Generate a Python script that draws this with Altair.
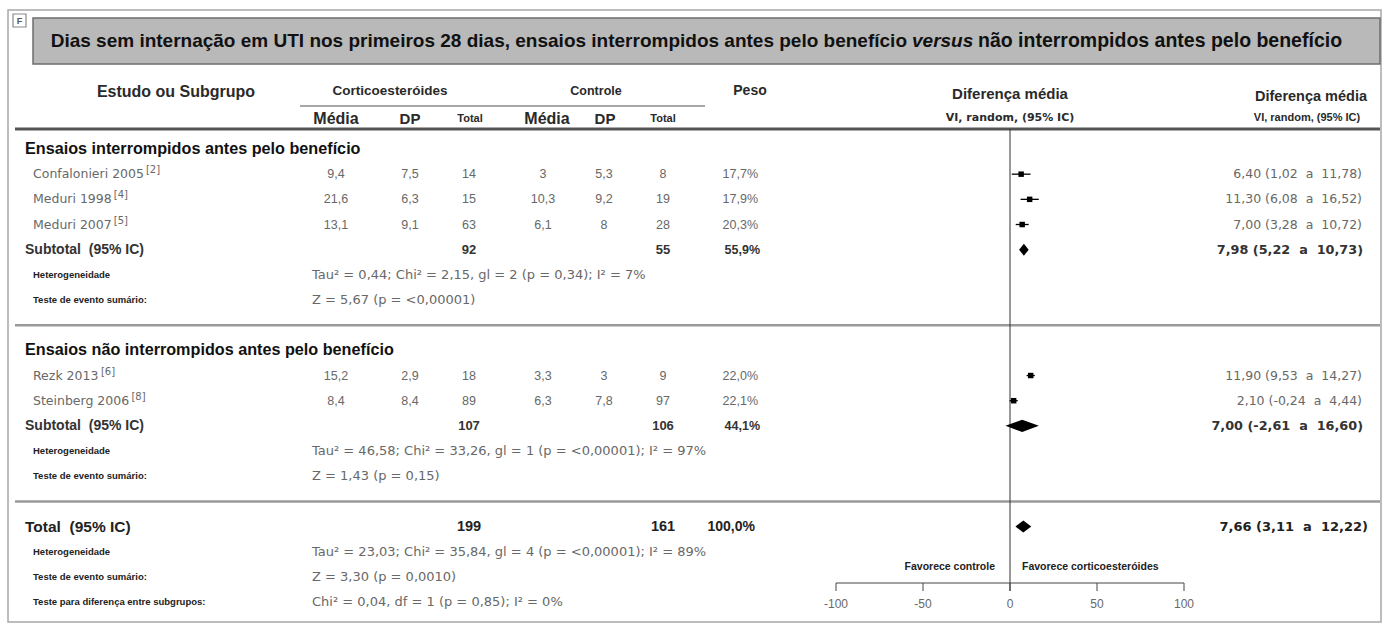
import altair as alt
import pandas as pd

# ---------------- study data ----------------
study = ["Confalonieri 2005", "Meduri 1998", "Meduri 2007", "Rezk 2013", "Steinberg 2006"]
ref = ["[2]", "[4]", "[5]", "[6]", "[8]"]
cort_mean = [9.4, 21.6, 13.1, 15.2, 8.4]
cort_sd = [7.5, 6.3, 9.1, 2.9, 8.4]
cort_n = [14, 15, 63, 18, 89]
ctrl_mean = [3, 10.3, 6.1, 3.3, 6.3]
ctrl_sd = [5.3, 9.2, 8, 3, 7.8]
ctrl_n = [8, 19, 28, 9, 97]
weight = [17.7, 17.9, 20.3, 22.0, 22.1]
md = [6.40, 11.30, 7.00, 11.90, 2.10]
md_lo = [1.02, 6.08, 3.28, 9.53, -0.24]
md_hi = [11.78, 16.52, 10.72, 14.27, 4.44]

# ---------------- pooled results (subgroup 1, subgroup 2, overall) ----------------
NB = "\u00a0"
pool_label = [f"Subtotal{NB}{NB}(95% IC)", f"Subtotal{NB}{NB}(95% IC)", f"Total{NB}{NB}(95% IC)"]
pool_cort_n = [92, 107, 199]
pool_ctrl_n = [55, 106, 161]
pool_weight = [55.9, 44.1, 100.0]
pool_md = [7.98, 7.00, 7.66]
pool_lo = [5.22, -2.61, 3.11]
pool_hi = [10.73, 16.60, 12.22]
heterogeneity = [
    "Tau² = 0,44; Chi² = 2,15, gl = 2 (p = 0,34); I² = 7%",
    "Tau² = 46,58; Chi² = 33,26, gl = 1 (p = <0,00001); I² = 97%",
    "Tau² = 23,03; Chi² = 35,84, gl = 4 (p = <0,00001); I² = 89%",
]
overall_effect = [
    "Z = 5,67 (p = <0,00001)",
    "Z = 1,43 (p = 0,15)",
    "Z = 3,30 (p = 0,0010)",
]
subgroup_test = "Chi² = 0,04, df = 1 (p = 0,85); I² = 0%"
group_titles = ["Ensaios interrompidos antes pelo benefício",
                "Ensaios não interrompidos antes pelo benefício"]
axis_ticks = [-100, -50, 0, 50, 100]

# ---------------- layout ----------------
W, H = 1384, 626
ROW_PX = 25.17
FIRST_ROW_Y = 149
study_rows = [1, 2, 3, 9, 10]
pool_rows = [4, 11, 15]
het_rows = [5, 12, 16]
effect_rows = [6, 13, 17]
group_rows = [0, 8]
sep_rows = [7, 14]
subgroup_row = 18

GRAY = "#686868"
DARK = "#2a2a2a"
HEAD_FONT = "Liberation Sans"
VAL_FONT = "Liberation Sans"
WIDE_FONT = "DejaVu Sans"

y_scale = alt.Scale(domain=[-FIRST_ROW_Y / ROW_PX, (H - FIRST_ROW_Y) / ROW_PX],
                    range=[0, H], nice=False, zero=False)
x_scale = alt.Scale(domain=[-100, 100], range=[836, 1184], nice=False, zero=False)
Y = alt.Y("row:Q", scale=y_scale, axis=None)


def dec(v, nd=None):
    s = f"{v:g}" if nd is None else f"{v:.{nd}f}"
    return s.replace(".", ",")


def ci_text(m, lo, hi):
    return f"{dec(m, 2)} ({dec(lo, 2)}{NB}{NB}a{NB}{NB}{dec(hi, 2)})"


# approximate DejaVu Sans advance widths (per 1000 em), used to place the superscripts
ADV = {" ": 318, "C": 698, "M": 863, "R": 695, "S": 635, "a": 613, "b": 635, "d": 635,
       "e": 615, "f": 352, "g": 635, "i": 278, "k": 579, "l": 278, "n": 634, "o": 612,
       "r": 411, "t": 392, "u": 634, "z": 525}
NAME_SIZE = 12.5


def text_width(s, size):
    return sum(ADV.get(c, 636) for c in s) * size / 1000.0


studies_df = pd.DataFrame({
    "row": study_rows,
    "name": study,
    "cm": [dec(v) for v in cort_mean],
    "csd": [dec(v) for v in cort_sd],
    "cn": [str(v) for v in cort_n],
    "km": [dec(v) for v in ctrl_mean],
    "ksd": [dec(v) for v in ctrl_sd],
    "kn": [str(v) for v in ctrl_n],
    "w": [dec(v, 1) + "%" for v in weight],
    "ci": [ci_text(m, lo, hi) for m, lo, hi in zip(md, md_lo, md_hi)],
    "md": md, "lo": md_lo, "hi": md_hi,
})

pool_df = pd.DataFrame({
    "row": pool_rows,
    "label": pool_label,
    "cn": [str(v) for v in pool_cort_n],
    "kn": [str(v) for v in pool_ctrl_n],
    "w": [dec(v, 1) + "%" for v in pool_weight],
    "ci": [ci_text(m, lo, hi) for m, lo, hi in zip(pool_md, pool_lo, pool_hi)],
    "md": pool_md, "lo": pool_lo, "hi": pool_hi,
})
sub_df = pool_df.iloc[:2]
tot_df = pool_df.iloc[2:]

het_df = pd.DataFrame({"row": het_rows, "txt": heterogeneity, "lab": ["Heterogeneidade"] * 3})
eff_df = pd.DataFrame({"row": effect_rows, "txt": overall_effect,
                       "lab": ["Teste de evento sumário:"] * 3})
sg_df = pd.DataFrame({"row": [subgroup_row], "txt": [subgroup_test],
                      "lab": ["Teste para diferença entre subgrupos:"]})
grp_df = pd.DataFrame({"row": group_rows, "txt": group_titles})
sep_df = pd.DataFrame({"row": sep_rows})
tick_df = pd.DataFrame({"t": axis_ticks, "lab": [str(t) for t in axis_ticks]})
one = pd.DataFrame({"k": [0]})

# diamond outlines for pooled estimates: left tip, centre, right tip
DIAMOND_HALF = 0.24
dia_rows = []
for i, (r, m, lo, hi) in enumerate(zip(pool_rows, pool_md, pool_lo, pool_hi)):
    for xv, h in ((lo, 0.0), (m, DIAMOND_HALF), (hi, 0.0)):
        dia_rows.append({"id": i, "row": r, "x": xv, "h": h})
dia_df = pd.DataFrame(dia_rows)


def col(df, field, x, align="center", size=12.5, weight="normal", color=GRAY,
        font=VAL_FONT, dy=0):
    return alt.Chart(df).mark_text(
        align=align, baseline="middle", fontSize=size, fontWeight=weight,
        color=color, font=font, dy=dy
    ).encode(x=alt.value(x), y=Y, text=alt.Text(f"{field}:N"))


def label(text, x, y, size, align="center", weight="bold", color=DARK, font=HEAD_FONT,
          style="normal"):
    return alt.Chart(one).mark_text(
        text=text, align=align, baseline="middle", fontSize=size, fontWeight=weight,
        color=color, font=font, fontStyle=style
    ).encode(x=alt.value(x), y=alt.value(y))


def box(x1, x2, y1, y2, fill="none", stroke="#888", sw=1.0):
    return alt.Chart(one).mark_rect(
        fill=fill, stroke=stroke, strokeWidth=sw
    ).encode(x=alt.value(x1), x2=alt.value(x2), y=alt.value(y1), y2=alt.value(y2))


def hline(x1, x2, y, color, sw):
    return alt.Chart(one).mark_rule(color=color, strokeWidth=sw).encode(
        x=alt.value(x1), x2=alt.value(x2), y=alt.value(y))


layers = []

# frame, title bar and panel tag
layers.append(box(8, 1381, 10, 622, stroke="#a8a8a8", sw=1.5))
layers.append(box(33, 1380, 18, 64, fill="#b9b9b9", stroke="#6e6e6e", sw=1.5))
layers.append(box(13, 26, 14, 27, fill="white", stroke="#8a8a8a", sw=1.2))
layers.append(label("F", 19.5, 21, 9, weight="bold", color="#555"))

layers.append(label("Dias sem internação em UTI nos primeiros 28 dias, ensaios interrompidos antes pelo benefício",
                    907, 41, 19, align="right", color="#111"))
layers.append(label("versus", 912, 41, 19, align="left", color="#111", style="italic"))
layers.append(label("não interrompidos antes pelo benefício", 978, 41, 19.5, align="left", color="#111"))

# column headers
layers.append(label("Estudo ou Subgrupo", 176, 92, 16))
layers.append(label("Corticoesteróides", 390, 91, 13.5))
layers.append(label("Controle", 596, 91, 12.5))
layers.append(label("Peso", 750, 91, 14))
layers.append(label("Diferença média", 1010, 94, 15))
layers.append(label("VI, random, (95% IC)", 1010, 118, 11, font=WIDE_FONT))
layers.append(label("Diferença média", 1311, 97, 14.5))
layers.append(label("VI, random, (95% IC)", 1307, 118, 11))
for txt, x, s in (("Média", 336, 16), ("DP", 410, 15), ("Total", 470, 11),
                  ("Média", 547, 16), ("DP", 605, 15), ("Total", 663, 11)):
    layers.append(label(txt, x, 119, s))

layers.append(hline(300, 705, 106, "#8a8a8a", 1.5))
layers.append(hline(15, 1380, 129, "#555555", 3))
layers.append(alt.Chart(sep_df).mark_rule(color="#9a9a9a", strokeWidth=2.5).encode(
    x=alt.value(15), x2=alt.value(1380), y=Y))

# subgroup titles
layers.append(col(grp_df, "txt", 25, align="left", size=16.2, weight="bold",
                  color="#111", font=HEAD_FONT))

# study rows
layers.append(col(studies_df, "name", 33, align="left", size=NAME_SIZE, font=WIDE_FONT))
for name, r, rf in zip(study, study_rows, ref):
    layers.append(alt.Chart(pd.DataFrame({"row": [r], "ref": [rf]})).mark_text(
        align="left", baseline="middle", fontSize=10, color=GRAY, font=WIDE_FONT, dy=-4
    ).encode(x=alt.value(33 + text_width(name, NAME_SIZE) + 2), y=Y, text="ref:N"))
for field, x in (("cm", 336), ("csd", 410), ("cn", 469), ("km", 543), ("ksd", 604), ("kn", 663)):
    layers.append(col(studies_df, field, x))
layers.append(col(studies_df, "w", 758, align="right"))
layers.append(col(studies_df, "ci", 1362, align="right", size=12.5, font=WIDE_FONT))

# subtotal rows
layers.append(col(sub_df, "label", 25, align="left", size=14, weight="bold", color="#333"))
layers.append(col(sub_df, "cn", 469, size=13, weight="bold", color="#333"))
layers.append(col(sub_df, "kn", 663, size=13, weight="bold", color="#333"))
layers.append(col(sub_df, "w", 760, align="right", size=12.5, weight="bold", color="#333"))
layers.append(col(sub_df, "ci", 1363, align="right", size=12.8, weight="bold", color="#333",
                  font=WIDE_FONT))

# overall row
layers.append(col(tot_df, "label", 25, align="left", size=15.5, weight="bold", color="#222"))
layers.append(col(tot_df, "cn", 469, size=14.5, weight="bold", color="#222"))
layers.append(col(tot_df, "kn", 663, size=14.5, weight="bold", color="#222"))
layers.append(col(tot_df, "w", 755, align="right", size=14, weight="bold", color="#222"))
layers.append(col(tot_df, "ci", 1368, align="right", size=13, weight="bold", color="#222",
                  font=WIDE_FONT))

# heterogeneity and test statistics
for df in (het_df, eff_df, sg_df):
    layers.append(col(df, "lab", 33, align="left", size=9.5, weight="bold", color="#222",
                      font=HEAD_FONT))
    layers.append(col(df, "txt", 312, align="left", size=13, font=WIDE_FONT))

# forest plot: line of no effect
layers.append(alt.Chart(pd.DataFrame({"x": [0]})).mark_rule(color="#333", strokeWidth=1).encode(
    x=alt.X("x:Q", scale=x_scale, axis=None), y=alt.value(129), y2=alt.value(591)))

# study confidence intervals and point estimates
layers.append(alt.Chart(studies_df).mark_rule(color="black", strokeWidth=1.3).encode(
    x=alt.X("lo:Q", scale=x_scale, axis=None), x2="hi:Q", y=Y))
layers.append(alt.Chart(studies_df).mark_square(color="black", size=30, opacity=1).encode(
    x=alt.X("md:Q", scale=x_scale, axis=None), y=Y))

# pooled diamonds
layers.append(alt.Chart(dia_df).transform_calculate(
    yt="datum.row - datum.h", yb="datum.row + datum.h"
).mark_area(color="black", opacity=1).encode(
    x=alt.X("x:Q", scale=x_scale, axis=None),
    y=alt.Y("yt:Q", scale=y_scale, axis=None), y2="yb:Q",
    detail="id:N"))

# x axis drawn through the effect scale
layers.append(alt.Chart(pd.DataFrame({"a": [axis_ticks[0]], "b": [axis_ticks[-1]]})).mark_rule(
    color="#444", strokeWidth=1).encode(
    x=alt.X("a:Q", scale=x_scale, axis=None), x2="b:Q", y=alt.value(583)))
layers.append(alt.Chart(tick_df).mark_rule(color="#444", strokeWidth=1).encode(
    x=alt.X("t:Q", scale=x_scale, axis=None), y=alt.value(583), y2=alt.value(591)))
layers.append(alt.Chart(tick_df).mark_text(fontSize=12, color=GRAY, font=VAL_FONT,
                                           baseline="middle").encode(
    x=alt.X("t:Q", scale=x_scale, axis=None), y=alt.value(604), text="lab:N"))
layers.append(label("Favorece controle", 995, 567, 10.5, align="right", color="#222"))
layers.append(label("Favorece corticoesteróides", 1022, 567, 10.5, align="left", color="#222"))

chart = alt.layer(*layers).properties(
    width=W, height=H, padding=0, autosize="none", background="white"
).configure_view(strokeWidth=0)

chart.save("out.html", embed_options={"renderer": "svg", "actions": False})
